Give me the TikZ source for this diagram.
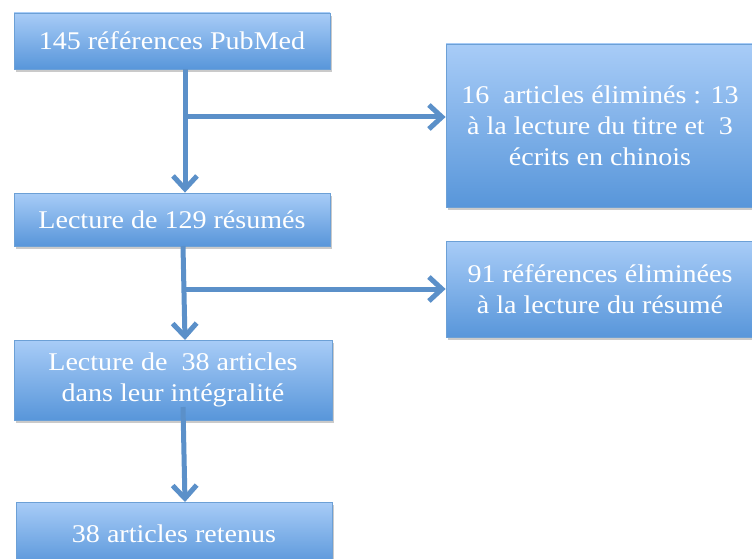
\documentclass[tikz,border=0pt]{standalone}
\usepackage{fontspec}
\setmainfont{Liberation Serif}[FakeStretch=1.1]
\usetikzlibrary{arrows.meta,shadows,calc}
\definecolor{boxtop}{HTML}{A8CCF7}
\definecolor{boxbot}{HTML}{5896DA}
\definecolor{boxline}{HTML}{6CA0D6}
\definecolor{arrowc}{HTML}{5B90C9}
\tikzset{
  flowbox/.style={rectangle, draw=boxline, line width=0.8pt, top color=boxtop, bottom color=boxbot,
    text=white, align=center, inner sep=0pt, font=\fontsize{25.5}{31}\selectfont,
    drop shadow={shadow xshift=2pt, shadow yshift=-3pt, opacity=0.35, fill=black!60}},
  flowarrow/.style={draw=arrowc, line width=5pt, -{Straight Barb[length=13pt,width=24pt,line width=5pt]}},
  flowline/.style={draw=arrowc, line width=5pt}
}
\begin{document}
\begin{tikzpicture}[x=1pt,y=1pt]
\useasboundingbox (0,0) rectangle (752,558);
% y_tikz = 558 - y_px
\node[flowbox, minimum width=316pt, minimum height=56pt] (b1) at (172,517) {145 références PubMed};
\node[flowbox, minimum width=316pt, minimum height=53pt] (b2) at (172,338.5) {Lecture de 129 résumés};
\node[flowbox, minimum width=318pt, minimum height=80pt] (b3) at (173,178) {Lecture de\ \ 38 articles\\dans leur intégralité};
\node[flowbox, minimum width=316pt, minimum height=64pt] (b4) at (174,24) {38 articles retenus};
\node[flowbox, minimum width=308pt, minimum height=163pt] (r1) at (600,432.5) {16\ \ articles éliminés : 13\\à la lecture du titre et\ \ 3\\écrits en chinois};
\node[flowbox, minimum width=308pt, minimum height=96pt] (r2) at (600,269) {91 références éliminées\\à la lecture du résumé};
% junctions
\coordinate (j1) at (185,441);
\coordinate (j2) at (183,269);
\coordinate (s2) at (183,312);
\coordinate (e2) at (185,218);
\coordinate (s3) at (183,151);
\coordinate (e3) at (185,56);
% connectors
\draw[flowarrow] (j1 |- b1.south) -- (j1 |- b2.north);
\draw[flowarrow] (j1) -- (j1 -| r1.west);
\draw[flowarrow] (s2) -- (e2);
\draw[flowarrow] (j2) -- (j2 -| r2.west);
\draw[flowarrow] (s3) -- (e3);
\end{tikzpicture}
\end{document}
